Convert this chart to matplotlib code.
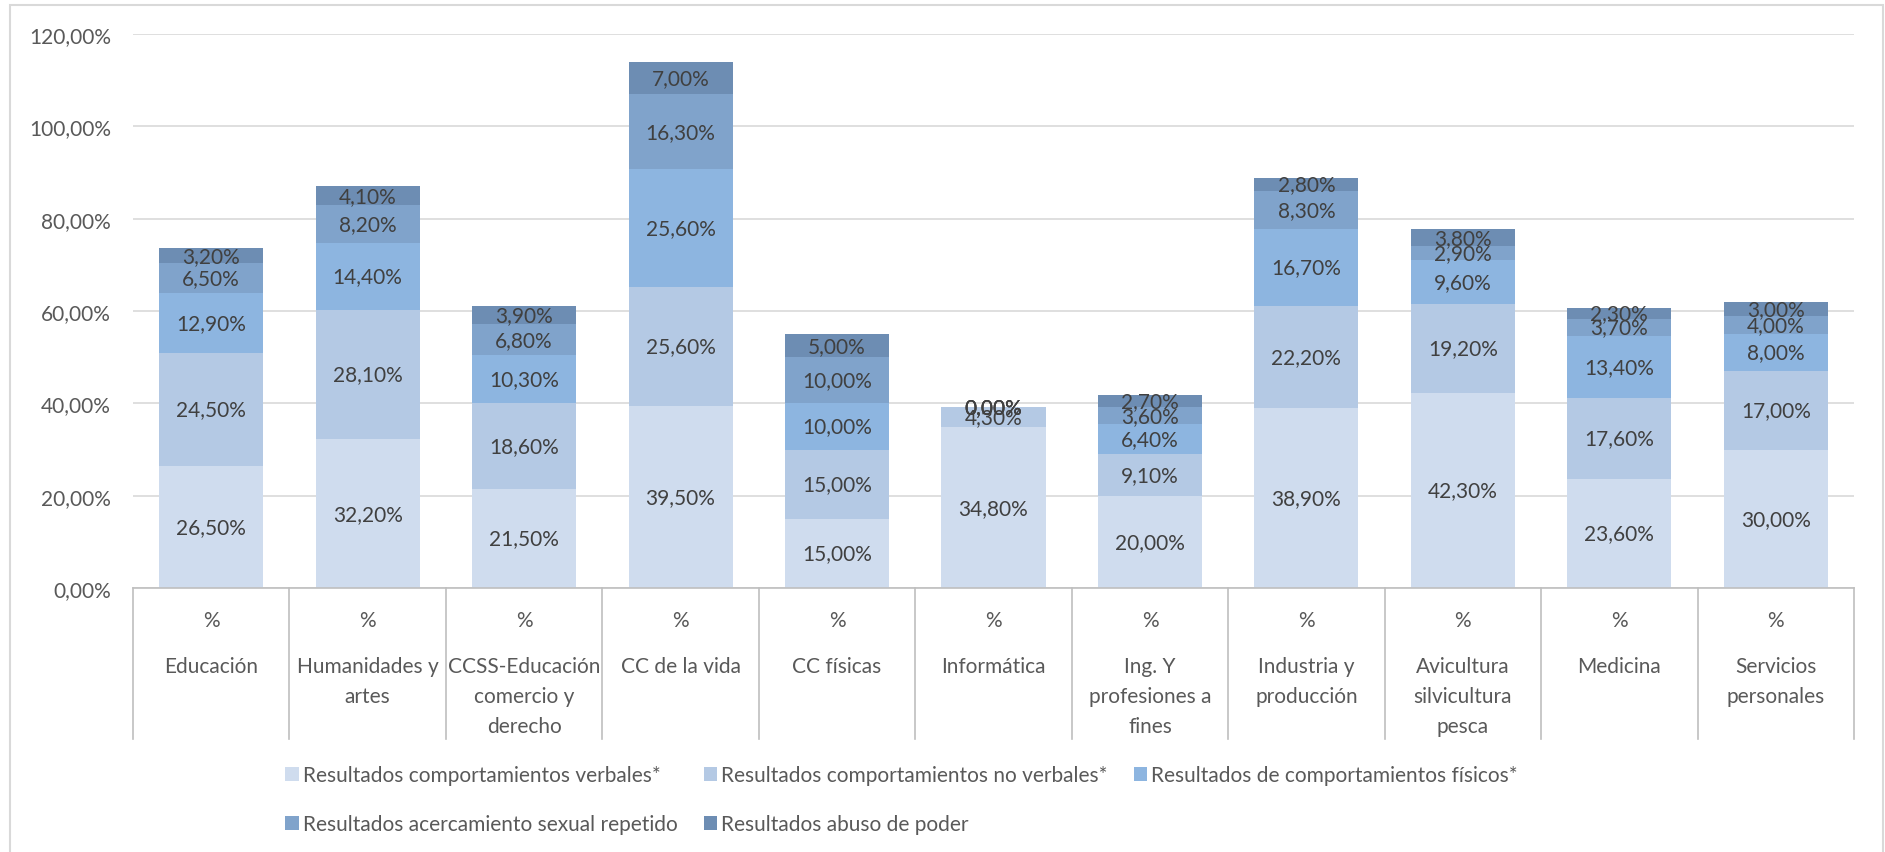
import matplotlib.pyplot as plt
from matplotlib.patches import Rectangle

plt.rcParams['font.family'] = ['Lato', 'DejaVu Sans']

categories = [
    ["Educación"],
    ["Humanidades y", "artes"],
    ["CCSS-Educación", "comercio y", "derecho"],
    ["CC de la vida"],
    ["CC físicas"],
    ["Informática"],
    ["Ing. Y", "profesiones a", "fines"],
    ["Industria y", "producción"],
    ["Avicultura", "silvicultura", "pesca"],
    ["Medicina"],
    ["Servicios", "personales"],
]

series_names = [
    "Resultados comportamientos verbales*",
    "Resultados comportamientos no verbales*",
    "Resultados de comportamientos físicos*",
    "Resultados acercamiento sexual repetido",
    "Resultados abuso de poder",
]

verbales = [26.5, 32.2, 21.5, 39.5, 15.0, 34.8, 20.0, 38.9, 42.3, 23.6, 30.0]
no_verbales = [24.5, 28.1, 18.6, 25.6, 15.0, 4.3, 9.1, 22.2, 19.2, 17.6, 17.0]
fisicos = [12.9, 14.4, 10.3, 25.6, 10.0, 0.0, 6.4, 16.7, 9.6, 13.4, 8.0]
acercamiento = [6.5, 8.2, 6.8, 16.3, 10.0, 0.0, 3.6, 8.3, 2.9, 3.7, 4.0]
abuso = [3.2, 4.1, 3.9, 7.0, 5.0, 0.0, 2.7, 2.8, 3.8, 2.3, 3.0]

colors = ['#CFDCEE', '#B4C9E4', '#8DB5E0', '#80A3CB', '#6D8DB3']

W, H = 1885, 853
fig = plt.figure(figsize=(W / 100, H / 100), dpi=100)
ax = fig.add_axes([133 / W, 1 - 589 / H, (1854 - 133) / W, (589 - 35) / H])

x = list(range(len(categories)))
bottom = [0.0] * len(x)
handles = []
for name, vals, col in zip(series_names, [verbales, no_verbales, fisicos, acercamiento, abuso], colors):
    bars = ax.bar(x, vals, width=0.665, bottom=bottom, color=col, label=name)
    labels = [("%.2f%%" % v).replace('.', ',') for v in vals]
    ax.bar_label(bars, labels=labels, label_type='center', fontsize=15, color='#404040')
    handles.append(bars)
    bottom = [b + v for b, v in zip(bottom, vals)]

ax.set_xlim(-0.5, len(x) - 0.5)
ax.set_ylim(0, 120)
ax.set_yticks(range(0, 121, 20))
ax.set_yticklabels([("%.2f%%" % t).replace('.', ',') for t in range(0, 121, 20)])
ax.tick_params(axis='y', length=0, pad=16, labelsize=15, labelcolor='#595959')
ax.set_xticks([])
ax.yaxis.grid(True, color='#D9D9D9', linewidth=1.2)
ax.set_axisbelow(True)
for s in ['left', 'right', 'top']:
    ax.spines[s].set_visible(False)
ax.spines['bottom'].set_color('#BFBFBF')
ax.spines['bottom'].set_linewidth(1.2)

# category table under the axis
trans = ax.get_xaxis_transform()
ax_h = 589 - 35
for k in range(len(x) + 1):
    ax.plot([k - 0.5, k - 0.5], [0, -(740 - 589) / ax_h], transform=trans,
            color='#BFBFBF', linewidth=1.2, clip_on=False)
for i, lines in enumerate(categories):
    ax.text(i, -(621 - 589) / ax_h, "%", transform=trans, ha='center', va='center',
            fontsize=15, color='#595959')
    for j, line in enumerate(lines):
        ax.text(i, -(667 + 30 * j - 589) / ax_h, line, transform=trans, ha='center',
                va='center', fontsize=15, color='#595959')

# legend laid out row by row like the original
order = [0, 3, 1, 4, 2]
fig.legend([handles[i] for i in order], [series_names[i] for i in order],
           loc='upper left', bbox_to_anchor=(285 / W, 1 - 766 / H), ncol=3,
           frameon=False, fontsize=15, labelcolor='#595959',
           handlelength=0.65, handleheight=0.65, handletextpad=0.2,
           columnspacing=1.25, labelspacing=1.4, borderpad=0, borderaxespad=0)

fig.patches.append(Rectangle((10 / W, -0.01), (1883 - 10) / W, 1 - 6 / H + 0.01,
                             transform=fig.transFigure, fill=False,
                             edgecolor='#D9D9D9', linewidth=1.5))

fig.savefig('out.png', dpi=100, facecolor='white')
